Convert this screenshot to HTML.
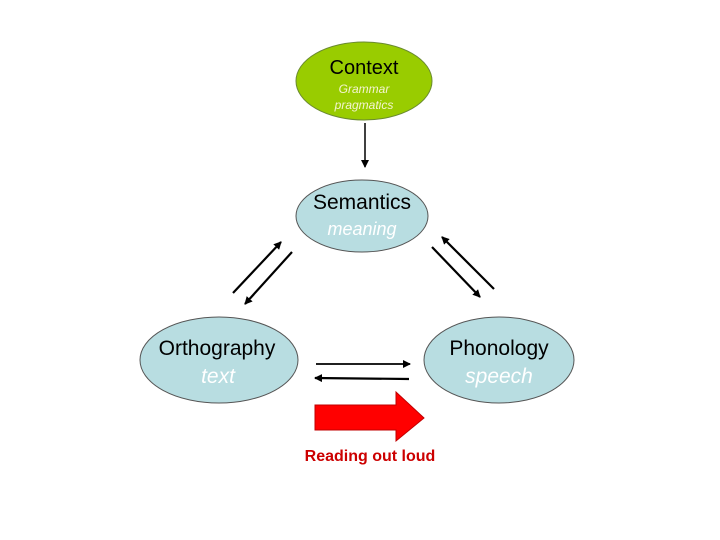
<!DOCTYPE html>
<html><head><meta charset="utf-8"><style>
html,body{margin:0;padding:0;background:#fff;}
svg{display:block;font-family:"Liberation Sans",Arial,sans-serif;}
</style></head><body>
<svg width="720" height="540" viewBox="0 0 720 540" xmlns="http://www.w3.org/2000/svg">
<defs>
<marker id="a" markerWidth="8" markerHeight="8" refX="7" refY="4" orient="auto" markerUnits="userSpaceOnUse">
<path d="M0,0 L8,4 L0,8 z" fill="#000"/></marker>
</defs>
<ellipse cx="364" cy="81" rx="68" ry="39" fill="#99cc00" stroke="#6a8a30" stroke-width="1"/>
<text x="364" y="74" font-size="20" text-anchor="middle" fill="#000">Context</text>
<text x="364" y="93" font-size="12" font-style="italic" text-anchor="middle" fill="#f4f4d0">Grammar</text>
<text x="364" y="109" font-size="12" font-style="italic" text-anchor="middle" fill="#f4f4d0">pragmatics</text>
<line x1="365" y1="123" x2="365" y2="167" stroke="#000" stroke-width="1.5" marker-end="url(#a)"/>
<ellipse cx="362" cy="216" rx="66" ry="36" fill="#b8dde1" stroke="#555" stroke-width="1"/>
<text x="362" y="209" font-size="21" text-anchor="middle" fill="#000">Semantics</text>
<text x="362" y="235" font-size="18" font-style="italic" text-anchor="middle" fill="#fff">meaning</text>
<ellipse cx="219" cy="360" rx="79" ry="43" fill="#b8dde1" stroke="#555" stroke-width="1"/>
<text x="217" y="355" font-size="21" text-anchor="middle" fill="#000">Orthography</text>
<text x="218" y="383" font-size="21" font-style="italic" text-anchor="middle" fill="#fff">text</text>
<ellipse cx="499" cy="360" rx="75" ry="43" fill="#b8dde1" stroke="#555" stroke-width="1"/>
<text x="499" y="355" font-size="21" text-anchor="middle" fill="#000">Phonology</text>
<text x="499" y="383" font-size="21" font-style="italic" text-anchor="middle" fill="#fff">speech</text>
<g stroke="#000" stroke-width="2.2">
<line x1="233" y1="293" x2="281" y2="242" marker-end="url(#a)"/>
<line x1="292" y1="252" x2="245" y2="304" marker-end="url(#a)"/>
<line x1="494" y1="289" x2="442" y2="237" marker-end="url(#a)"/>
<line x1="432" y1="247" x2="480" y2="297" marker-end="url(#a)"/>
<line x1="316" y1="364" x2="410" y2="364" stroke-width="1.8" marker-end="url(#a)"/>
<line x1="409" y1="379" x2="315" y2="378" marker-end="url(#a)"/>
</g>
<path d="M315,405 L396,405 L396,392 L424,418 L396,441 L396,430 L315,430 z" fill="#ff0000" stroke="#c00000" stroke-width="1"/>
<text x="370" y="461" font-size="16" font-weight="bold" text-anchor="middle" fill="#cc0000">Reading out loud</text>
</svg>
</body></html>
